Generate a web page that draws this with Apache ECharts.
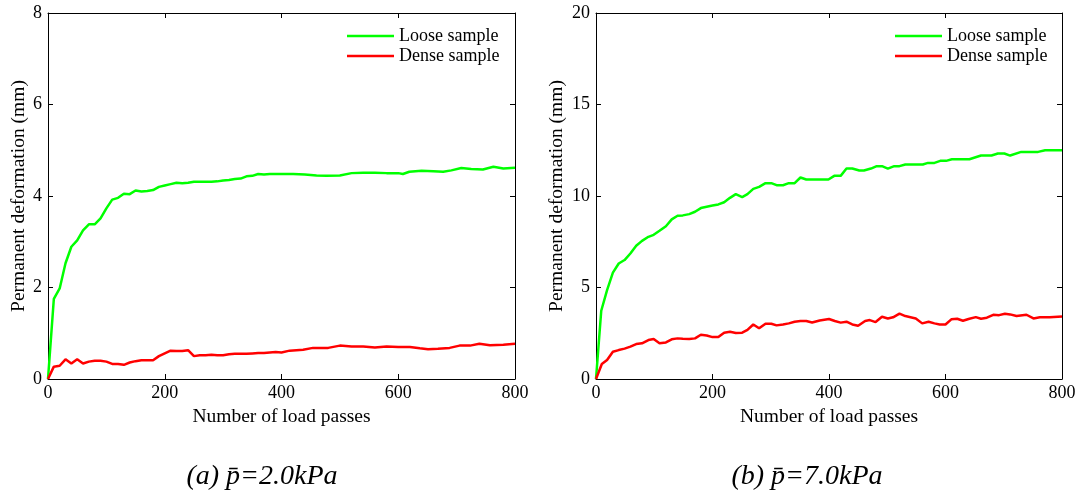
<!DOCTYPE html>
<html><head><meta charset="utf-8">
<script src="https://cdn.jsdelivr.net/npm/echarts@6/dist/echarts.min.js"></script>
<style>html,body{margin:0;padding:0;background:#fff}#c{width:1083px;height:498px}</style>
</head><body><div id="c"></div>
<script>
// Panel (a) p=2.0kPa
const aLooseX = [0,10,20,30,40,50,60,70,80,90,100,110,120,130,140,150,160,170,180,190,200,210,220,230,240,250,260,270,280,290,300,310,320,330,340,350,360,370,380,390,400,420,440,460,477,500,520,540,560,580,600,608,619,640,660,677,691,708,725,745,763,780,800];
const aLooseY = [0,1.75,1.98,2.53,2.89,3.03,3.25,3.38,3.38,3.51,3.73,3.92,3.96,4.05,4.04,4.12,4.10,4.11,4.13,4.20,4.23,4.26,4.29,4.28,4.29,4.31,4.31,4.31,4.31,4.32,4.34,4.35,4.37,4.38,4.43,4.44,4.48,4.47,4.48,4.48,4.48,4.48,4.47,4.45,4.44,4.45,4.50,4.51,4.51,4.50,4.50,4.48,4.53,4.55,4.54,4.53,4.56,4.61,4.59,4.58,4.64,4.60,4.62];
const aDenseX = [0,10,20,30,40,50,60,70,80,90,100,110,120,130,140,150,160,170,180,190,200,210,220,230,240,250,260,270,280,290,300,310,320,330,340,350,360,370,380,390,400,414,437,454,480,500,520,540,560,580,600,620,637,651,668,688,705,723,739,757,780,800];
const aDenseY = [0,0.27,0.29,0.43,0.34,0.43,0.34,0.38,0.40,0.40,0.38,0.33,0.33,0.31,0.36,0.39,0.41,0.41,0.41,0.50,0.56,0.62,0.61,0.61,0.63,0.50,0.52,0.52,0.53,0.52,0.52,0.54,0.55,0.55,0.55,0.56,0.57,0.57,0.58,0.59,0.58,0.62,0.64,0.68,0.68,0.73,0.71,0.71,0.69,0.71,0.70,0.70,0.67,0.65,0.66,0.68,0.73,0.73,0.77,0.74,0.75,0.77];
// Panel (b) p=7.0kPa
const bLooseX = [0,9,19,29,39,49,59,69,79,90,99,109,120,130,140,149,160,170,180,190,200,210,220,230,240,251,260,270,280,291,301,310,321,331,341,351,361,371,384,399,409,420,430,440,452,460,472,482,491,501,512,521,531,561,570,581,591,601,611,641,661,679,690,701,711,730,759,771,800];
const bLooseY = [0,3.73,4.86,5.81,6.31,6.50,6.86,7.28,7.55,7.77,7.88,8.10,8.35,8.72,8.92,8.94,9.01,9.14,9.34,9.41,9.48,9.54,9.66,9.90,10.10,9.94,10.10,10.39,10.50,10.70,10.70,10.59,10.59,10.70,10.70,11.01,10.90,10.90,10.90,10.90,11.10,11.10,11.50,11.50,11.39,11.39,11.50,11.63,11.63,11.50,11.63,11.63,11.72,11.72,11.81,11.81,11.92,11.92,12.01,12.01,12.21,12.21,12.32,12.32,12.21,12.41,12.41,12.50,12.50];
const bDenseX = [0,10,19,29,39,49,59,69,79,90,99,109,120,130,140,149,160,170,180,190,200,210,220,230,240,251,260,270,280,291,301,310,321,331,341,351,361,371,384,400,410,420,430,440,450,462,470,480,491,501,510,521,531,549,560,571,581,590,600,610,620,630,641,652,661,671,682,692,702,711,722,739,751,762,779,800];
const bDenseY = [0,0.82,1.04,1.49,1.58,1.66,1.77,1.91,1.95,2.13,2.18,1.95,2.00,2.17,2.22,2.20,2.18,2.22,2.42,2.38,2.29,2.29,2.53,2.58,2.51,2.53,2.68,2.98,2.77,3.02,3.02,2.93,2.98,3.04,3.13,3.17,3.17,3.09,3.20,3.28,3.17,3.08,3.13,2.98,2.91,3.17,3.22,3.11,3.40,3.31,3.37,3.57,3.44,3.31,3.04,3.13,3.04,2.98,2.98,3.26,3.29,3.18,3.29,3.38,3.29,3.35,3.51,3.49,3.57,3.53,3.44,3.51,3.31,3.37,3.37,3.42];
const xTicks = [0,200,400,600,800];
const aYMax = 8, aYStep = 2, bYMax = 20, bYStep = 5;
const seriesNames = ['Loose sample','Dense sample'];
const captions = ['(a) p\u0304=2.0kPa','(b) p\u0304=7.0kPa'];
const xName = 'Number of load passes';
const yName = 'Permanent deformation (mm)';

const zip = (xs, ys) => xs.map((x, i) => [x, ys[i]]);
const FONT = 'Liberation Serif';
const tickTxt = {fontFamily: FONT, fontSize: 18, color: '#000'};
const nameTxt = {fontFamily: FONT, fontSize: 19.5, color: '#000'};
const grids = [
  {left: 48, right: 568, top: 13, bottom: 119},
  {left: 596, right: 21, top: 13, bottom: 119}
];
function xAx(gi, show) {
  return {type: 'value', gridIndex: gi, min: 0, max: 800, interval: 200,
    position: show ? 'bottom' : 'top',
    name: show ? xName : '', nameLocation: 'middle', nameGap: 21,
    nameTextStyle: nameTxt,
    axisLine: {show: true, onZero: false, lineStyle: {color: '#000', width: 1}},
    axisTick: {show: true, inside: true, length: 5, lineStyle: {color: '#000'}},
    axisLabel: {show: show, margin: 5, ...tickTxt},
    splitLine: {show: false}};
}
function yAx(gi, max, step, show, gap) {
  return {type: 'value', gridIndex: gi, min: 0, max: max, interval: step,
    position: show ? 'left' : 'right',
    name: show ? yName : '', nameLocation: 'middle', nameGap: gap,
    nameTextStyle: nameTxt,
    axisLine: {show: true, onZero: false, lineStyle: {color: '#000', width: 1}},
    axisTick: {show: true, inside: true, length: 5, lineStyle: {color: '#000'}},
    axisLabel: {show: show, margin: 6, ...tickTxt},
    splitLine: {show: false}};
}
function line(name, data, color, xi, yi) {
  return {type: 'line', name: name, data: data, xAxisIndex: xi, yAxisIndex: yi,
    symbol: 'none', showSymbol: false, smooth: false,
    lineStyle: {color: color, width: 2.5}, itemStyle: {color: color}, animation: false};
}
const GREEN = '#00ff00', RED = '#ff0000';
const legendBase = {orient: 'vertical', itemWidth: 47, itemHeight: 2.5, itemGap: 2, padding: 0,
  textStyle: {fontFamily: FONT, fontSize: 18, color: '#000', lineHeight: 18}, data: seriesNames, icon: 'rect'};
const capStyle = {fontFamily: FONT, fontStyle: 'italic', fontWeight: 'normal', fontSize: 28, color: '#000'};
const option = {
  backgroundColor: '#fff',
  animation: false,
  grid: grids,
  xAxis: [xAx(0, true), xAx(0, false), xAx(1, true), xAx(1, false)],
  yAxis: [yAx(0, aYMax, aYStep, true, 19), yAx(0, aYMax, aYStep, false, 0), yAx(1, bYMax, bYStep, true, 29), yAx(1, bYMax, bYStep, false, 0)],
  title: [
    {text: captions[0], left: 262, top: 463, textAlign: 'center', padding: 0, textStyle: capStyle},
    {text: captions[1], left: 807, top: 463, textAlign: 'center', padding: 0, textStyle: capStyle}
  ],
  legend: [
    {...legendBase, left: 347, top: 27},
    {...legendBase, left: 895, top: 27}
  ],
  series: [
    line(seriesNames[0], zip(aLooseX, aLooseY), GREEN, 0, 0),
    line(seriesNames[1], zip(aDenseX, aDenseY), RED, 0, 0),
    line(seriesNames[0], zip(bLooseX, bLooseY), GREEN, 2, 2),
    line(seriesNames[1], zip(bDenseX, bDenseY), RED, 2, 2)
  ]
};
const chart = echarts.init(document.getElementById('c'), null, {renderer: 'canvas'});
chart.setOption(option);
</script></body></html>
